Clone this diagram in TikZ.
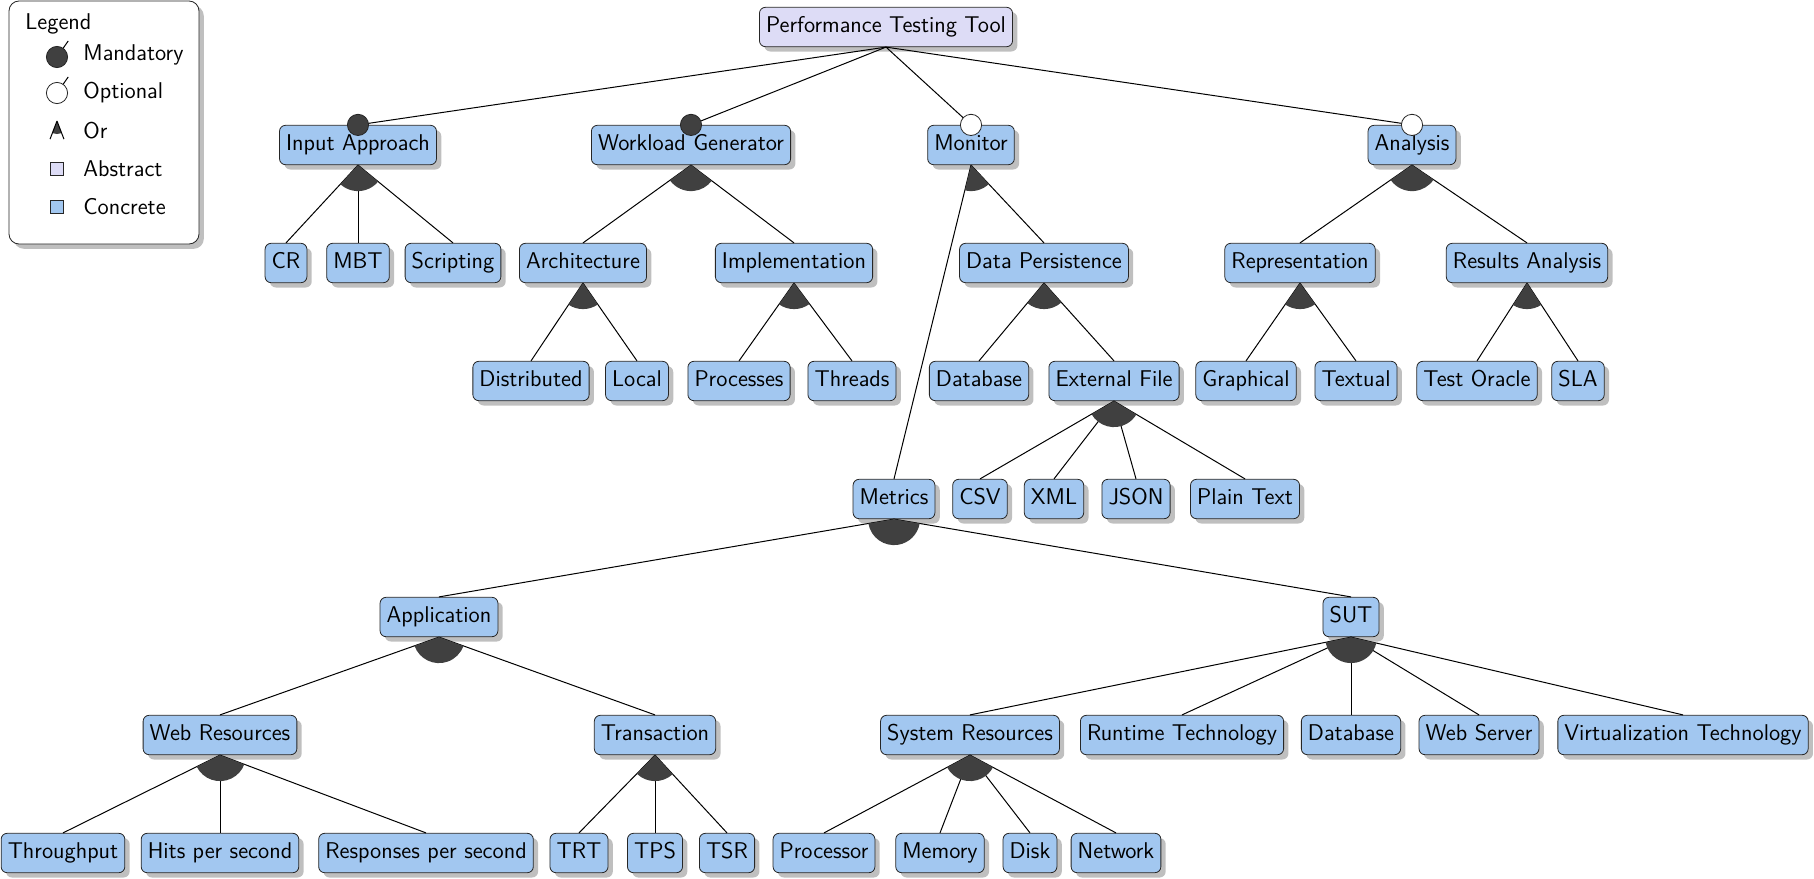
\documentclass[tikz,border=0pt]{standalone}
\usetikzlibrary{shadows,calc}
\definecolor{conc}{RGB}{162,199,240}
\definecolor{abst}{RGB}{221,220,246}
\definecolor{dark}{RGB}{64,64,64}
\newcommand\orarc[3]{\fill[orfill] let \p1=(#1.south), \p2=(#2.north), \p3=(#3.north),
  \n1={atan2(\y2-\y1,\x2-\x1)}, \n2={atan2(\y3-\y1,\x3-\x1)} in
  (\p1) -- ++(\n1:13pt) arc[start angle=\n1, end angle=\n2, radius=13pt] -- cycle;}
\newcommand\link[2]{\draw[edgeline] (#1.south) -- (#2.north);}
\newcommand\mandat[2]{\draw[edgeline] (#1.south) -- (#2.north); \filldraw[mandc] (#2.north) circle[radius=5.3pt];}
\newcommand\option[2]{\draw[edgeline] (#1.south) -- (#2.north); \filldraw[optc] (#2.north) circle[radius=5.3pt];}
\begin{document}
\begin{tikzpicture}[x=0.5pt,y=-0.5pt,
  shad/.style={drop shadow={shadow xshift=2.4pt, shadow yshift=-2.4pt, opacity=0.5}},
  feat/.style={draw=black!85, rounded corners=3pt, fill=conc, font=\fontsize{11.4}{13.5}\selectfont\sffamily,
    text height=8.3pt, text depth=2.6pt, inner ysep=4.4pt, inner xsep=3.3pt, shad},
  absf/.style={feat, fill=abst},
  edgeline/.style={draw=black, line width=0.5pt},
  mandc/.style={fill=dark, draw=black!85, line width=0.4pt},
  optc/.style={fill=white, draw=black!85, line width=0.4pt},
  orfill/.style={fill=dark},
  legtext/.style={anchor=west, inner sep=0pt, font=\fontsize{11.4}{13.5}\selectfont\sffamily}
]
\useasboundingbox (0,0) rectangle (1814,878);
% legend
\node[draw=black!85, fill=white, rounded corners=5pt, minimum width=95pt, minimum height=121.5pt, shad] (legbox) at (104,122.5) {};
\node[legtext] (legt) at (25,24) {Legend};
\coordinate (lm) at (57,57);
\coordinate (lo) at (57,93);
\coordinate (lr) at (57,121);
\draw[edgeline] (lm) -- ++(55:9.8pt);
\filldraw[mandc] (lm) circle[radius=5.3pt];
\node[legtext] (lmt) at (83,55) {Mandatory};
\draw[edgeline] (lo) -- ++(55:9.8pt);
\filldraw[optc] (lo) circle[radius=5.3pt];
\node[legtext] (lot) at (83,93) {Optional};
\fill[orfill] (lr) -- ++(-111:6.5pt) arc[start angle=-111, end angle=-69, radius=6.5pt] -- cycle;
\draw[edgeline] (lr) -- ++(-111:9.7pt) (lr) -- ++(-69:9.7pt);
\node[legtext] (lrt) at (83,131) {Or};
\node[draw=black!85, fill=abst, inner sep=0pt, minimum size=6.5pt] (las) at (57,169) {};
\node[legtext] (last) at (83,169) {Abstract};
\node[draw=black!85, fill=conc, inner sep=0pt, minimum size=6.5pt] (lcs) at (57,207) {};
\node[legtext] (lcst) at (83,207) {Concrete};

% nodes
\node[absf] (root) at (886,27) {Performance Testing Tool};
\node[feat] (ia) at (358,145) {Input Approach};
\node[feat] (wg) at (691,145) {Workload Generator};
\node[feat] (mon) at (971,145) {Monitor};
\node[feat] (ana) at (1412,145) {Analysis};

\node[feat] (cr) at (286,263) {CR};
\node[feat] (mbt) at (358,263) {MBT};
\node[feat] (scr) at (453,263) {Scripting};
\node[feat] (arch) at (583,263) {Architecture};
\node[feat] (impl) at (794,263) {Implementation};
\node[feat] (dp) at (1044,263) {Data Persistence};
\node[feat] (rep) at (1300,263) {Representation};
\node[feat] (ra) at (1527,263) {Results Analysis};

\node[feat] (dist) at (531,381) {Distributed};
\node[feat] (loc) at (637,381) {Local};
\node[feat] (proc) at (739,381) {Processes};
\node[feat] (thr) at (852,381) {Threads};
\node[feat] (db1) at (979,381) {Database};
\node[feat] (ef) at (1114,381) {External File};
\node[feat] (gra) at (1246,381) {Graphical};
\node[feat] (txt) at (1356,381) {Textual};
\node[feat] (to) at (1477,381) {Test Oracle};
\node[feat] (sla) at (1578,381) {SLA};

\node[feat] (met) at (894,499) {Metrics};
\node[feat] (csv) at (980,499) {CSV};
\node[feat] (xml) at (1054,499) {XML};
\node[feat] (json) at (1136,499) {JSON};
\node[feat] (pt) at (1245,499) {Plain Text};

\node[feat] (app) at (439,617) {Application};
\node[feat] (sut) at (1351,617) {SUT};

\node[feat] (wr) at (220,735) {Web Resources};
\node[feat] (tr) at (655,735) {Transaction};
\node[feat] (sr) at (970,735) {System Resources};
\node[feat] (rt) at (1182,735) {Runtime Technology};
\node[feat] (db2) at (1351,735) {Database};
\node[feat] (ws) at (1479,735) {Web Server};
\node[feat] (vt) at (1683,735) {Virtualization Technology};

\node[feat] (tp) at (63,853) {Throughput};
\node[feat] (hps) at (220,853) {Hits per second};
\node[feat] (rps) at (426,853) {Responses per second};
\node[feat] (trt) at (579,853) {TRT};
\node[feat] (tps) at (655,853) {TPS};
\node[feat] (tsr) at (727,853) {TSR};
\node[feat] (cpu) at (824,853) {Processor};
\node[feat] (mem) at (940,853) {Memory};
\node[feat] (disk) at (1030,853) {Disk};
\node[feat] (net) at (1116,853) {Network};

% edges
\link{ia}{cr}\link{ia}{mbt}\link{ia}{scr}\orarc{ia}{cr}{scr}
\link{wg}{arch}\link{wg}{impl}\orarc{wg}{arch}{impl}
\link{mon}{met}\link{mon}{dp}\orarc{mon}{met}{dp}
\link{ana}{rep}\link{ana}{ra}\orarc{ana}{rep}{ra}
\link{arch}{dist}\link{arch}{loc}\orarc{arch}{dist}{loc}
\link{impl}{proc}\link{impl}{thr}\orarc{impl}{proc}{thr}
\link{dp}{db1}\link{dp}{ef}\orarc{dp}{db1}{ef}
\link{rep}{gra}\link{rep}{txt}\orarc{rep}{gra}{txt}
\link{ra}{to}\link{ra}{sla}\orarc{ra}{to}{sla}
\link{ef}{csv}\link{ef}{xml}\link{ef}{json}\link{ef}{pt}\orarc{ef}{csv}{pt}
\link{met}{app}\link{met}{sut}\orarc{met}{app}{sut}
\link{app}{wr}\link{app}{tr}\orarc{app}{wr}{tr}
\link{sut}{sr}\link{sut}{rt}\link{sut}{db2}\link{sut}{ws}\link{sut}{vt}\orarc{sut}{sr}{vt}
\link{wr}{tp}\link{wr}{hps}\link{wr}{rps}\orarc{wr}{tp}{rps}
\link{tr}{trt}\link{tr}{tps}\link{tr}{tsr}\orarc{tr}{trt}{tsr}
\link{sr}{cpu}\link{sr}{mem}\link{sr}{disk}\link{sr}{net}\orarc{sr}{cpu}{net}
\mandat{root}{ia}\mandat{root}{wg}\option{root}{mon}\option{root}{ana}
\end{tikzpicture}
\end{document}
